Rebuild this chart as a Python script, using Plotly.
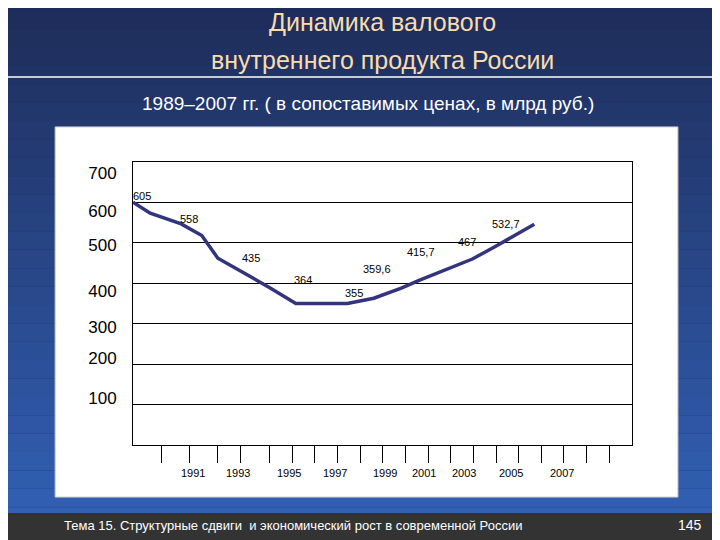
import plotly.graph_objects as go

# line (slide drawing: positions in years / mln rub)
years = [1989.0, 1989.75, 1991.1, 1992.0, 1992.7, 1993.75, 1995.0, 1996.1,
         1998.35, 1999.5, 2000.7, 2001.5, 2003.0, 2003.8, 2004.8, 2006.5]
gdp = [600.7, 573.5, 547, 518, 462, 429, 388, 350,
       350, 363, 388, 408, 440.6, 460, 491, 546]

# value labels
lab_text = ["605", "558", "435", "364", "355", "359,6", "415,7", "467", "532,7"]
lab_x = [1989.4, 1991.45, 1994.15, 1996.4, 1998.65, 1999.63, 2001.57, 2003.57, 2005.28]
lab_y = [617, 559, 462, 407, 377, 435, 477, 503, 546]

# y tick labels as drawn on the slide
ytick_text = ["700", "600", "500", "400", "300", "200", "100"]
ytick_pos = [673, 578, 495, 381, 292, 215, 116]

# x labels and tick marks
xlab_text = ["1989", "1991", "1993", "1995", "1997", "1999", "2001", "2003", "2005", "2007"]
xlab_pos = [1988.2, 1991.6, 1993.6, 1995.8, 1997.8, 2000.0, 2001.7, 2003.45, 2005.5, 2007.7]
xmarks = [1990.23, 1991.45, 1992.7, 1993.68, 1994.95, 1995.96, 1996.91, 1997.9, 1998.91,
          1999.87, 2000.88, 2001.87, 2002.84, 2003.83, 2004.84, 2005.8, 2006.81,
          2007.78, 2008.79, 2009.8]

fig = go.Figure()
fig.add_trace(go.Scatter(x=years, y=gdp, mode="lines",
                         line=dict(color="#34347e", width=3.5), showlegend=False))

# background gradient bands
shapes = []
n = 30
for i in range(n):
    t = i / (n - 1)
    r = int(0x1e + (0x33 - 0x1e) * t)
    g = int(0x2c + (0x62 - 0x2c) * t)
    b = int(0x58 + (0xb8 - 0x58) * t)
    shapes.append(dict(type="rect", xref="paper", yref="paper",
                       x0=-0.3, x1=1.3, y0=1.6 - (i + 1) * 1.95 / n, y1=1.6 - i * 1.95 / n,
                       fillcolor=f"rgb({r},{g},{b})", line_width=0, layer="below"))
shapes += [
    dict(type="rect", xref="paper", yref="paper", x0=-0.3, x1=1.3, y0=-0.4, y1=-0.24,
         fillcolor="#333333", line_width=0, layer="below"),
    dict(type="rect", xref="paper", yref="paper", x0=-0.156, x1=1.092, y0=-0.184, y1=1.124,
         fillcolor="white", line=dict(color="#cccccc", width=1), layer="below"),
    dict(type="line", xref="paper", yref="paper", x0=-0.3, x1=1.3, y0=1.30, y1=1.30,
         line=dict(color="white", width=1.5)),
]

ann = []
for t, x, y in zip(lab_text, lab_x, lab_y):
    ann.append(dict(x=x, y=y, text=t, showarrow=False, font=dict(size=11, color="black")))
for t, x in zip(xlab_text, xlab_pos):
    ann.append(dict(x=x, y=-0.099, yref="paper", text=t, showarrow=False,
                    yanchor="middle", font=dict(size=11, color="black")))
mid = dict(showarrow=False, xref="paper", yref="paper", yanchor="middle")
ann += [
    dict(x=0.5, y=1.495, text="Динамика валового", xanchor="center",
         font=dict(size=25, color="#f6dcae"), **mid),
    dict(x=0.5, y=1.36, text="внутреннего продукта России", xanchor="center",
         font=dict(size=25, color="#f6dcae"), **mid),
    dict(x=0.47, y=1.205, text="1989–2007 гг. ( в сопоставимых ценах, в млрд руб.)",
         xanchor="center", font=dict(size=19, color="white"), **mid),
    dict(x=-0.142, y=-0.283,
         text="Тема 15. Структурные сдвиги  и экономический рост в современной России",
         xanchor="left", font=dict(size=13, color="white"), **mid),
    dict(x=1.116, y=-0.283, text="145", xanchor="center",
         font=dict(size=14, color="white"), **mid),
]

fig.update_layout(
    width=720, height=540,
    margin=dict(l=125, r=96, t=154, b=103),
    paper_bgcolor="#1e2c58", plot_bgcolor="white",
    font=dict(family="Arial, Liberation Sans, sans-serif"),
    shapes=shapes, annotations=ann,
)
fig.update_xaxes(range=[1989, 2010.76], showgrid=False, zeroline=False,
                 tickvals=xmarks, ticks="outside", ticklen=17, tickcolor="black",
                 showticklabels=False, showline=True, linecolor="black", mirror=True)
fig.update_yaxes(range=[0, 700], showgrid=False, zeroline=False,
                 tickvals=ytick_pos, ticktext=ytick_text, ticks="",
                 tickfont=dict(size=17, color="black"), ticklabelstandoff=12,
                 showline=True, linecolor="black", mirror=True,
                 minor=dict(dtick=100, showgrid=True, gridcolor="black", gridwidth=1))

fig.write_html("out.html")
